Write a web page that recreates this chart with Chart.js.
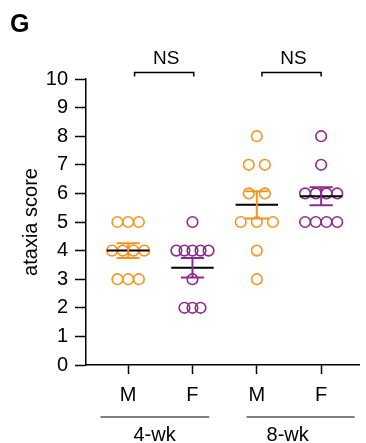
<!DOCTYPE html>
<html>
<head>
<meta charset="utf-8">
<script src="https://cdn.jsdelivr.net/npm/chart.js@4.4.1/dist/chart.umd.min.js"></script>
<style>
  html, body { margin: 0; padding: 0; background: #fff; }
  #wrap { width: 366px; height: 443px; position: relative; }
</style>
</head>
<body>
<div id="wrap"><canvas id="chart"></canvas></div>
<script>
// ataxia scores per animal
const sexLabels = ['M', 'F', 'M', 'F'];
const ageLabels = ['4-wk', '8-wk'];
const male4wk = [5, 5, 5, 4, 4, 4, 4, 3, 3, 3];
const female4wk = [5, 4, 4, 4, 4, 4, 3, 2, 2, 2];
const male8wk = [8, 7, 7, 6, 6, 5, 5, 5, 4, 3];
const female8wk = [8, 7, 6, 6, 6, 6, 5, 5, 5, 5];
const compareLabels = ['NS', 'NS'];

const groups = [male4wk, female4wk, male8wk, female8wk];
const colors = ['#F7941E', '#8E2A8F', '#F7941E', '#8E2A8F'];
const FONT = "'Liberation Sans', Arial, Helvetica, sans-serif";

Chart.defaults.font.family = FONT;
Chart.defaults.color = '#000';

// spread equal scores sideways so every animal is visible
function swarm(values, center) {
    const counts = {};
    values.forEach(v => { counts[v] = (counts[v] || 0) + 1; });
    const maxN = Math.max(...Object.values(counts));
    const step = maxN > 1 ? Math.min(0.25, 0.5 / (maxN - 1)) : 0;
    const seen = {};
    return values.map(v => {
        const i = seen[v] || 0;
        seen[v] = i + 1;
        return { x: center + (i - (counts[v] - 1) / 2) * step, y: v };
    });
}

function meanSem(values) {
    const n = values.length;
    const mean = values.reduce((a, b) => a + b, 0) / n;
    const sd = Math.sqrt(values.reduce((a, b) => a + (b - mean) ** 2, 0) / (n - 1));
    return { mean, sem: sd / Math.sqrt(n) };
}

const overlay = {
    id: 'overlay',
    afterDatasetsDraw(chart) {
        const ctx = chart.ctx;
        const xs = chart.scales.x;
        const ys = chart.scales.y;
        const unit = xs.getPixelForValue(1) - xs.getPixelForValue(0);
        ctx.save();
        ctx.lineCap = 'butt';

        // mean line and SEM bar for each group
        groups.forEach((vals, i) => {
            const s = meanSem(vals);
            const cx = xs.getPixelForValue(i);
            const yMean = ys.getPixelForValue(s.mean);
            const yHi = ys.getPixelForValue(s.mean + s.sem);
            const yLo = ys.getPixelForValue(s.mean - s.sem);

            ctx.strokeStyle = '#000';
            ctx.lineWidth = 2;
            ctx.beginPath();
            ctx.moveTo(cx - 0.33 * unit, yMean);
            ctx.lineTo(cx + 0.33 * unit, yMean);
            ctx.stroke();

            ctx.strokeStyle = colors[i];
            ctx.lineWidth = 2;
            ctx.beginPath();
            ctx.moveTo(cx, yHi);
            ctx.lineTo(cx, yLo);
            ctx.moveTo(cx - 0.18 * unit, yHi);
            ctx.lineTo(cx + 0.18 * unit, yHi);
            ctx.moveTo(cx - 0.18 * unit, yLo);
            ctx.lineTo(cx + 0.18 * unit, yLo);
            ctx.stroke();
        });

        // significance brackets above each age pair
        const brackets = [[0.1, 1.02], [2.08, 3.0]];
        ctx.strokeStyle = '#000';
        ctx.lineWidth = 1.5;
        ctx.fillStyle = '#000';
        ctx.font = '19px ' + FONT;
        ctx.textAlign = 'center';
        ctx.textBaseline = 'middle';
        brackets.forEach(([a, b], k) => {
            const x1 = xs.getPixelForValue(a);
            const x2 = xs.getPixelForValue(b);
            const yb = ys.getPixelForValue(10.23);
            ctx.beginPath();
            ctx.moveTo(x1, yb + 4);
            ctx.lineTo(x1, yb);
            ctx.lineTo(x2, yb);
            ctx.lineTo(x2, yb + 4);
            ctx.stroke();
            ctx.fillText(compareLabels[k], (x1 + x2) / 2 + 2, ys.getPixelForValue(10.7));
        });

        // age group underlines and labels
        const spans = [[-0.43, 1.26, 0.41], [1.84, 3.52, 2.48]];
        const base = chart.chartArea.bottom;
        ctx.strokeStyle = '#555';
        ctx.lineWidth = 1.5;
        ctx.font = '20px ' + FONT;
        spans.forEach(([a, b, t], k) => {
            ctx.beginPath();
            ctx.moveTo(xs.getPixelForValue(a), base + 52);
            ctx.lineTo(xs.getPixelForValue(b), base + 52);
            ctx.stroke();
            ctx.fillText(ageLabels[k], xs.getPixelForValue(t), base + 70);
        });

        // panel letter
        ctx.font = 'bold 25px ' + FONT;
        ctx.textAlign = 'left';
        ctx.fillText('G', 10, 25);
        ctx.restore();
    }
};

new Chart(document.getElementById('chart'), {
    type: 'scatter',
    data: {
        datasets: groups.map((vals, i) => ({
            data: swarm(vals, i),
            borderColor: colors[i],
            backgroundColor: 'rgba(0,0,0,0)',
            borderWidth: 1.6,
            pointRadius: 5.3,
            pointHoverRadius: 5.3
        }))
    },
    options: {
        responsive: true,
        maintainAspectRatio: false,
        animation: false,
        layout: { padding: { top: 79, right: 1, left: 0, bottom: 0 } },
        plugins: {
            legend: { display: false },
            tooltip: { enabled: false }
        },
        scales: {
            x: {
                type: 'linear',
                min: -0.655,
                max: 3.59,
                afterFit: scale => { scale.height = 78; },
                afterBuildTicks: scale => {
                    scale.ticks = sexLabels.map((_, i) => ({ value: i }));
                },
                border: { display: true, color: '#000', width: 1.5 },
                grid: {
                    drawOnChartArea: false,
                    tickLength: 9,
                    tickColor: '#000',
                    tickWidth: 1.5
                },
                ticks: {
                    padding: 9,
                    maxRotation: 0,
                    font: { size: 20 },
                    callback: (v) => sexLabels[v] ?? ''
                }
            },
            y: {
                min: 0,
                max: 10,
                afterFit: scale => { scale.width = 86; },
                border: { display: true, color: '#000', width: 1.5 },
                grid: {
                    drawOnChartArea: false,
                    tickLength: 11,
                    tickColor: '#000',
                    tickWidth: 1.5
                },
                ticks: {
                    stepSize: 1,
                    padding: 7,
                    font: { size: 20 }
                },
                title: {
                    display: true,
                    text: 'ataxia score',
                    font: { size: 20 },
                    padding: { top: 19, bottom: 0 }
                }
            }
        }
    },
    plugins: [overlay]
});
</script>
</body>
</html>
